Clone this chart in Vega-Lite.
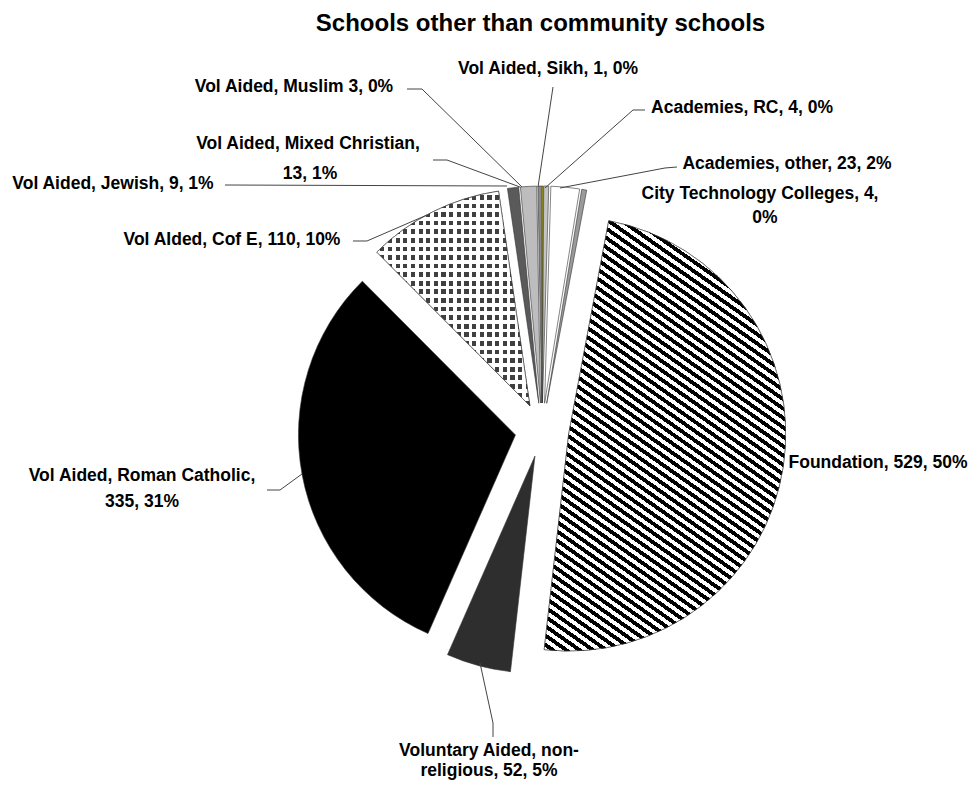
{
"$schema":"https://vega.github.io/schema/vega-lite/v6.json",
"width":973,"height":745,"autosize":"none",
"padding":{"top":40,"left":0,"right":0,"bottom":0},
"background":"white",
"config":{"view":{"stroke":null}},
"title":{"text":"Schools other than community schools","font":"Liberation Sans","fontSize":24,"fontWeight":"bold","color":"#000","anchor":"middle","dx":54,"dy":25,"baseline":"alphabetic","offset":10},
"datasets":{
"slices":[
{"cat":"Vol Aided, Sikh","n":1,"ord":1},
{"cat":"Academies, RC","n":4,"ord":2},
{"cat":"Academies, other","n":23,"ord":3},
{"cat":"City Technology Colleges","n":4,"ord":4},
{"cat":"Foundation","n":529,"ord":5},
{"cat":"Voluntary Aided, non-religious","n":52,"ord":6},
{"cat":"Vol Aided, Roman Catholic","n":335,"ord":7},
{"cat":"Vol AIded, Cof E","n":110,"ord":8},
{"cat":"Vol Aided, Jewish","n":9,"ord":9},
{"cat":"Vol Aided, Mixed Christian","n":13,"ord":10},
{"cat":"Vol Aided, Muslim","n":3,"ord":11}
],
"labels":[
{"t":"Vol Aided, Sikh, 1, 0%","u":0.0276,"v":-1.6636},
{"t":"Vol Aided, Muslim 3, 0%","u":-1.1429,"v":-1.5806},
{"t":"Vol Aided, Mixed Christian,","u":-1.0783,"v":-1.3157},
{"t":"13, 1%","u":-1.0691,"v":-1.182},
{"t":"Vol Aided, Jewish, 9, 1%","u":-1.977,"v":-1.1336},
{"t":"Vol AIded, Cof E, 110, 10%","u":-1.4286,"v":-0.8756},
{"t":"Vol Aided, Roman Catholic,","u":-1.8433,"v":0.2097},
{"t":"335, 31%","u":-1.8433,"v":0.3295},
{"t":"Voluntary Aided, non-","u":-0.2442,"v":1.477},
{"t":"religious, 52, 5%","u":-0.2442,"v":1.5714},
{"t":"Foundation, 529, 50%","u":1.5484,"v":0.1521},
{"t":"Academies, RC, 4, 0%","u":0.9217,"v":-1.4839},
{"t":"Academies, other, 23, 2%","u":1.129,"v":-1.2258},
{"t":"City Technology Colleges, 4,","u":1.0046,"v":-1.0876},
{"t":"0%","u":1.0276,"v":-0.9747}
],
"leaders":[
{"x1":0.0507,"y1":-1.5806,"x2":-0.0184,"y2":-1.1198},
{"x1":-0.6221,"y1":-1.5714,"x2":-0.553,"y2":-1.5714},
{"x1":-0.553,"y1":-1.5714,"x2":-0.0922,"y2":-1.1198},
{"x1":-0.5023,"y1":-1.2442,"x2":-0.4378,"y2":-1.2442},
{"x1":-0.4378,"y1":-1.2442,"x2":-0.1014,"y2":-1.1198},
{"x1":-1.4608,"y1":-1.129,"x2":-0.1613,"y2":-1.1244},
{"x1":-0.871,"y1":-0.871,"x2":-0.8065,"y2":-0.871},
{"x1":-0.8065,"y1":-0.871,"x2":-0.53,"y2":-0.9908},
{"x1":-1.2673,"y1":0.2765,"x2":-1.2074,"y2":0.2765},
{"x1":-1.2074,"y1":0.2765,"x2":-1.106,"y2":0.2028},
{"x1":-0.2258,"y1":1.4147,"x2":-0.2258,"y2":1.3502},
{"x1":-0.2258,"y1":1.3502,"x2":-0.2857,"y2":1.0737},
{"x1":0.4747,"y1":-1.4747,"x2":0.4194,"y2":-1.4747},
{"x1":0.4194,"y1":-1.4747,"x2":0.0138,"y2":-1.1152},
{"x1":0.6221,"y1":-1.212,"x2":0.5668,"y2":-1.2074},
{"x1":0.5668,"y1":-1.2074,"x2":0.0829,"y2":-1.1152}
]
},
"layer":[
{
"data":{"name":"slices"},
"transform":[
{"window":[{"op":"sum","field":"n","as":"cum"}],"sort":[{"field":"ord"}],"frame":[null,0]},
{"joinaggregate":[{"op":"sum","field":"n","as":"total"}]},
{"calculate":"2*PI*(datum.cum-datum.n)/datum.total","as":"a0"},
{"calculate":"2*PI*datum.cum/datum.total","as":"a1"},
{"calculate":"0.1244*sin((datum.a0+datum.a1)/2)","as":"ex"},
{"calculate":"-0.1244*cos((datum.a0+datum.a1)/2)","as":"ey"}
],
"encoding":{
"theta":{"field":"a0","type":"quantitative","scale":null,"stack":null},
"theta2":{"field":"a1"},
"x":{"field":"ex","type":"quantitative","scale":{"domain":[-1,1],"range":[325,759],"nice":false,"zero":false},"axis":null},
"y":{"field":"ey","type":"quantitative","scale":{"domain":[-1,1],"range":[173,607],"nice":false,"zero":false},"axis":null}
},
"layer":[
{"mark":{"type":"arc","radius":217,"stroke":"#333","strokeWidth":0.6},
"encoding":{"fill":{"field":"cat","type":"nominal","legend":null,"scale":{
"domain":["Vol Aided, Sikh","Academies, RC","Academies, other","City Technology Colleges","Foundation","Voluntary Aided, non-religious","Vol Aided, Roman Catholic","Vol AIded, Cof E","Vol Aided, Jewish","Vol Aided, Mixed Christian","Vol Aided, Muslim"],
"range":["#e8dc00","#c4c4c4","#ffffff","#9a9a9a","#ffffff","#2e2e2e","#000000","#404040","#5a5a5a","#bdbdbd","#8a8a8a"]}}}},
{"transform":[{"filter":"datum.ord==8"}],
"mark":{"type":"arc","radius":217,"strokeWidth":0,"fill":{"gradient":"linear","x1":0,"y1":0,"x2":0,"y2":1,"stops":[
{"offset":0,"color":"#fff"},{"offset":0.018,"color":"#fff"},{"offset":0.018,"color":"rgba(255,255,255,0)"},{"offset":0.04,"color":"rgba(255,255,255,0)"},
{"offset":0.04,"color":"#fff"},{"offset":0.058,"color":"#fff"},{"offset":0.058,"color":"rgba(255,255,255,0)"},{"offset":0.08,"color":"rgba(255,255,255,0)"},
{"offset":0.08,"color":"#fff"},{"offset":0.098,"color":"#fff"},{"offset":0.098,"color":"rgba(255,255,255,0)"},{"offset":0.12,"color":"rgba(255,255,255,0)"},
{"offset":0.12,"color":"#fff"},{"offset":0.138,"color":"#fff"},{"offset":0.138,"color":"rgba(255,255,255,0)"},{"offset":0.16,"color":"rgba(255,255,255,0)"},
{"offset":0.16,"color":"#fff"},{"offset":0.178,"color":"#fff"},{"offset":0.178,"color":"rgba(255,255,255,0)"},{"offset":0.2,"color":"rgba(255,255,255,0)"},
{"offset":0.2,"color":"#fff"},{"offset":0.218,"color":"#fff"},{"offset":0.218,"color":"rgba(255,255,255,0)"},{"offset":0.24,"color":"rgba(255,255,255,0)"},
{"offset":0.24,"color":"#fff"},{"offset":0.258,"color":"#fff"},{"offset":0.258,"color":"rgba(255,255,255,0)"},{"offset":0.28,"color":"rgba(255,255,255,0)"},
{"offset":0.28,"color":"#fff"},{"offset":0.298,"color":"#fff"},{"offset":0.298,"color":"rgba(255,255,255,0)"},{"offset":0.32,"color":"rgba(255,255,255,0)"},
{"offset":0.32,"color":"#fff"},{"offset":0.338,"color":"#fff"},{"offset":0.338,"color":"rgba(255,255,255,0)"},{"offset":0.36,"color":"rgba(255,255,255,0)"},
{"offset":0.36,"color":"#fff"},{"offset":0.378,"color":"#fff"},{"offset":0.378,"color":"rgba(255,255,255,0)"},{"offset":0.4,"color":"rgba(255,255,255,0)"},
{"offset":0.4,"color":"#fff"},{"offset":0.418,"color":"#fff"},{"offset":0.418,"color":"rgba(255,255,255,0)"},{"offset":0.44,"color":"rgba(255,255,255,0)"},
{"offset":0.44,"color":"#fff"},{"offset":0.458,"color":"#fff"},{"offset":0.458,"color":"rgba(255,255,255,0)"},{"offset":0.48,"color":"rgba(255,255,255,0)"},
{"offset":0.48,"color":"#fff"},{"offset":0.498,"color":"#fff"},{"offset":0.498,"color":"rgba(255,255,255,0)"},{"offset":0.52,"color":"rgba(255,255,255,0)"},
{"offset":0.52,"color":"#fff"},{"offset":0.538,"color":"#fff"},{"offset":0.538,"color":"rgba(255,255,255,0)"},{"offset":0.56,"color":"rgba(255,255,255,0)"},
{"offset":0.56,"color":"#fff"},{"offset":0.578,"color":"#fff"},{"offset":0.578,"color":"rgba(255,255,255,0)"},{"offset":0.6,"color":"rgba(255,255,255,0)"},
{"offset":0.6,"color":"#fff"},{"offset":0.618,"color":"#fff"},{"offset":0.618,"color":"rgba(255,255,255,0)"},{"offset":0.64,"color":"rgba(255,255,255,0)"},
{"offset":0.64,"color":"#fff"},{"offset":0.658,"color":"#fff"},{"offset":0.658,"color":"rgba(255,255,255,0)"},{"offset":0.68,"color":"rgba(255,255,255,0)"},
{"offset":0.68,"color":"#fff"},{"offset":0.698,"color":"#fff"},{"offset":0.698,"color":"rgba(255,255,255,0)"},{"offset":0.72,"color":"rgba(255,255,255,0)"},
{"offset":0.72,"color":"#fff"},{"offset":0.738,"color":"#fff"},{"offset":0.738,"color":"rgba(255,255,255,0)"},{"offset":0.76,"color":"rgba(255,255,255,0)"},
{"offset":0.76,"color":"#fff"},{"offset":0.778,"color":"#fff"},{"offset":0.778,"color":"rgba(255,255,255,0)"},{"offset":0.8,"color":"rgba(255,255,255,0)"},
{"offset":0.8,"color":"#fff"},{"offset":0.818,"color":"#fff"},{"offset":0.818,"color":"rgba(255,255,255,0)"},{"offset":0.84,"color":"rgba(255,255,255,0)"},
{"offset":0.84,"color":"#fff"},{"offset":0.858,"color":"#fff"},{"offset":0.858,"color":"rgba(255,255,255,0)"},{"offset":0.88,"color":"rgba(255,255,255,0)"},
{"offset":0.88,"color":"#fff"},{"offset":0.898,"color":"#fff"},{"offset":0.898,"color":"rgba(255,255,255,0)"},{"offset":0.92,"color":"rgba(255,255,255,0)"},
{"offset":0.92,"color":"#fff"},{"offset":0.938,"color":"#fff"},{"offset":0.938,"color":"rgba(255,255,255,0)"},{"offset":0.96,"color":"rgba(255,255,255,0)"},
{"offset":0.96,"color":"#fff"},{"offset":0.978,"color":"#fff"},{"offset":0.978,"color":"rgba(255,255,255,0)"},{"offset":1,"color":"rgba(255,255,255,0)"}
]}}},
{"transform":[{"filter":"datum.ord==8"}],
"mark":{"type":"arc","radius":217,"stroke":"#333","strokeWidth":0.6,"fill":{"gradient":"linear","x1":0,"y1":0,"x2":1,"y2":0,"stops":[
{"offset":0,"color":"#fff"},{"offset":0.0225,"color":"#fff"},{"offset":0.0225,"color":"rgba(255,255,255,0)"},{"offset":0.05,"color":"rgba(255,255,255,0)"},
{"offset":0.05,"color":"#fff"},{"offset":0.0725,"color":"#fff"},{"offset":0.0725,"color":"rgba(255,255,255,0)"},{"offset":0.1,"color":"rgba(255,255,255,0)"},
{"offset":0.1,"color":"#fff"},{"offset":0.1225,"color":"#fff"},{"offset":0.1225,"color":"rgba(255,255,255,0)"},{"offset":0.15,"color":"rgba(255,255,255,0)"},
{"offset":0.15,"color":"#fff"},{"offset":0.1725,"color":"#fff"},{"offset":0.1725,"color":"rgba(255,255,255,0)"},{"offset":0.2,"color":"rgba(255,255,255,0)"},
{"offset":0.2,"color":"#fff"},{"offset":0.2225,"color":"#fff"},{"offset":0.2225,"color":"rgba(255,255,255,0)"},{"offset":0.25,"color":"rgba(255,255,255,0)"},
{"offset":0.25,"color":"#fff"},{"offset":0.2725,"color":"#fff"},{"offset":0.2725,"color":"rgba(255,255,255,0)"},{"offset":0.3,"color":"rgba(255,255,255,0)"},
{"offset":0.3,"color":"#fff"},{"offset":0.3225,"color":"#fff"},{"offset":0.3225,"color":"rgba(255,255,255,0)"},{"offset":0.35,"color":"rgba(255,255,255,0)"},
{"offset":0.35,"color":"#fff"},{"offset":0.3725,"color":"#fff"},{"offset":0.3725,"color":"rgba(255,255,255,0)"},{"offset":0.4,"color":"rgba(255,255,255,0)"},
{"offset":0.4,"color":"#fff"},{"offset":0.4225,"color":"#fff"},{"offset":0.4225,"color":"rgba(255,255,255,0)"},{"offset":0.45,"color":"rgba(255,255,255,0)"},
{"offset":0.45,"color":"#fff"},{"offset":0.4725,"color":"#fff"},{"offset":0.4725,"color":"rgba(255,255,255,0)"},{"offset":0.5,"color":"rgba(255,255,255,0)"},
{"offset":0.5,"color":"#fff"},{"offset":0.5225,"color":"#fff"},{"offset":0.5225,"color":"rgba(255,255,255,0)"},{"offset":0.55,"color":"rgba(255,255,255,0)"},
{"offset":0.55,"color":"#fff"},{"offset":0.5725,"color":"#fff"},{"offset":0.5725,"color":"rgba(255,255,255,0)"},{"offset":0.6,"color":"rgba(255,255,255,0)"},
{"offset":0.6,"color":"#fff"},{"offset":0.6225,"color":"#fff"},{"offset":0.6225,"color":"rgba(255,255,255,0)"},{"offset":0.65,"color":"rgba(255,255,255,0)"},
{"offset":0.65,"color":"#fff"},{"offset":0.6725,"color":"#fff"},{"offset":0.6725,"color":"rgba(255,255,255,0)"},{"offset":0.7,"color":"rgba(255,255,255,0)"},
{"offset":0.7,"color":"#fff"},{"offset":0.7225,"color":"#fff"},{"offset":0.7225,"color":"rgba(255,255,255,0)"},{"offset":0.75,"color":"rgba(255,255,255,0)"},
{"offset":0.75,"color":"#fff"},{"offset":0.7725,"color":"#fff"},{"offset":0.7725,"color":"rgba(255,255,255,0)"},{"offset":0.8,"color":"rgba(255,255,255,0)"},
{"offset":0.8,"color":"#fff"},{"offset":0.8225,"color":"#fff"},{"offset":0.8225,"color":"rgba(255,255,255,0)"},{"offset":0.85,"color":"rgba(255,255,255,0)"},
{"offset":0.85,"color":"#fff"},{"offset":0.8725,"color":"#fff"},{"offset":0.8725,"color":"rgba(255,255,255,0)"},{"offset":0.9,"color":"rgba(255,255,255,0)"},
{"offset":0.9,"color":"#fff"},{"offset":0.9225,"color":"#fff"},{"offset":0.9225,"color":"rgba(255,255,255,0)"},{"offset":0.95,"color":"rgba(255,255,255,0)"},
{"offset":0.95,"color":"#fff"},{"offset":0.9725,"color":"#fff"},{"offset":0.9725,"color":"rgba(255,255,255,0)"},{"offset":1,"color":"rgba(255,255,255,0)"}
]}}},
{"transform":[{"filter":"datum.ord==5"}],
"mark":{"type":"arc","radius":217,"stroke":"#333","strokeWidth":0.6,"fill":{"gradient":"linear","x1":0.1338,"y1":-0.3404,"x2":-0.3404,"y2":0.8662,"stops":[
{"offset":0,"color":"#000"},{"offset":0.0078125,"color":"#000"},{"offset":0.0078125,"color":"#fff"},{"offset":0.015625,"color":"#fff"},
{"offset":0.015625,"color":"#000"},{"offset":0.0234375,"color":"#000"},{"offset":0.0234375,"color":"#fff"},{"offset":0.03125,"color":"#fff"},
{"offset":0.03125,"color":"#000"},{"offset":0.0390625,"color":"#000"},{"offset":0.0390625,"color":"#fff"},{"offset":0.046875,"color":"#fff"},
{"offset":0.046875,"color":"#000"},{"offset":0.0546875,"color":"#000"},{"offset":0.0546875,"color":"#fff"},{"offset":0.0625,"color":"#fff"},
{"offset":0.0625,"color":"#000"},{"offset":0.0703125,"color":"#000"},{"offset":0.0703125,"color":"#fff"},{"offset":0.078125,"color":"#fff"},
{"offset":0.078125,"color":"#000"},{"offset":0.0859375,"color":"#000"},{"offset":0.0859375,"color":"#fff"},{"offset":0.09375,"color":"#fff"},
{"offset":0.09375,"color":"#000"},{"offset":0.1015625,"color":"#000"},{"offset":0.1015625,"color":"#fff"},{"offset":0.109375,"color":"#fff"},
{"offset":0.109375,"color":"#000"},{"offset":0.1171875,"color":"#000"},{"offset":0.1171875,"color":"#fff"},{"offset":0.125,"color":"#fff"},
{"offset":0.125,"color":"#000"},{"offset":0.1328125,"color":"#000"},{"offset":0.1328125,"color":"#fff"},{"offset":0.140625,"color":"#fff"},
{"offset":0.140625,"color":"#000"},{"offset":0.1484375,"color":"#000"},{"offset":0.1484375,"color":"#fff"},{"offset":0.15625,"color":"#fff"},
{"offset":0.15625,"color":"#000"},{"offset":0.1640625,"color":"#000"},{"offset":0.1640625,"color":"#fff"},{"offset":0.171875,"color":"#fff"},
{"offset":0.171875,"color":"#000"},{"offset":0.1796875,"color":"#000"},{"offset":0.1796875,"color":"#fff"},{"offset":0.1875,"color":"#fff"},
{"offset":0.1875,"color":"#000"},{"offset":0.1953125,"color":"#000"},{"offset":0.1953125,"color":"#fff"},{"offset":0.203125,"color":"#fff"},
{"offset":0.203125,"color":"#000"},{"offset":0.2109375,"color":"#000"},{"offset":0.2109375,"color":"#fff"},{"offset":0.21875,"color":"#fff"},
{"offset":0.21875,"color":"#000"},{"offset":0.2265625,"color":"#000"},{"offset":0.2265625,"color":"#fff"},{"offset":0.234375,"color":"#fff"},
{"offset":0.234375,"color":"#000"},{"offset":0.2421875,"color":"#000"},{"offset":0.2421875,"color":"#fff"},{"offset":0.25,"color":"#fff"},
{"offset":0.25,"color":"#000"},{"offset":0.2578125,"color":"#000"},{"offset":0.2578125,"color":"#fff"},{"offset":0.265625,"color":"#fff"},
{"offset":0.265625,"color":"#000"},{"offset":0.2734375,"color":"#000"},{"offset":0.2734375,"color":"#fff"},{"offset":0.28125,"color":"#fff"},
{"offset":0.28125,"color":"#000"},{"offset":0.2890625,"color":"#000"},{"offset":0.2890625,"color":"#fff"},{"offset":0.296875,"color":"#fff"},
{"offset":0.296875,"color":"#000"},{"offset":0.3046875,"color":"#000"},{"offset":0.3046875,"color":"#fff"},{"offset":0.3125,"color":"#fff"},
{"offset":0.3125,"color":"#000"},{"offset":0.3203125,"color":"#000"},{"offset":0.3203125,"color":"#fff"},{"offset":0.328125,"color":"#fff"},
{"offset":0.328125,"color":"#000"},{"offset":0.3359375,"color":"#000"},{"offset":0.3359375,"color":"#fff"},{"offset":0.34375,"color":"#fff"},
{"offset":0.34375,"color":"#000"},{"offset":0.3515625,"color":"#000"},{"offset":0.3515625,"color":"#fff"},{"offset":0.359375,"color":"#fff"},
{"offset":0.359375,"color":"#000"},{"offset":0.3671875,"color":"#000"},{"offset":0.3671875,"color":"#fff"},{"offset":0.375,"color":"#fff"},
{"offset":0.375,"color":"#000"},{"offset":0.3828125,"color":"#000"},{"offset":0.3828125,"color":"#fff"},{"offset":0.390625,"color":"#fff"},
{"offset":0.390625,"color":"#000"},{"offset":0.3984375,"color":"#000"},{"offset":0.3984375,"color":"#fff"},{"offset":0.40625,"color":"#fff"},
{"offset":0.40625,"color":"#000"},{"offset":0.4140625,"color":"#000"},{"offset":0.4140625,"color":"#fff"},{"offset":0.421875,"color":"#fff"},
{"offset":0.421875,"color":"#000"},{"offset":0.4296875,"color":"#000"},{"offset":0.4296875,"color":"#fff"},{"offset":0.4375,"color":"#fff"},
{"offset":0.4375,"color":"#000"},{"offset":0.4453125,"color":"#000"},{"offset":0.4453125,"color":"#fff"},{"offset":0.453125,"color":"#fff"},
{"offset":0.453125,"color":"#000"},{"offset":0.4609375,"color":"#000"},{"offset":0.4609375,"color":"#fff"},{"offset":0.46875,"color":"#fff"},
{"offset":0.46875,"color":"#000"},{"offset":0.4765625,"color":"#000"},{"offset":0.4765625,"color":"#fff"},{"offset":0.484375,"color":"#fff"},
{"offset":0.484375,"color":"#000"},{"offset":0.4921875,"color":"#000"},{"offset":0.4921875,"color":"#fff"},{"offset":0.5,"color":"#fff"},
{"offset":0.5,"color":"#000"},{"offset":0.5078125,"color":"#000"},{"offset":0.5078125,"color":"#fff"},{"offset":0.515625,"color":"#fff"},
{"offset":0.515625,"color":"#000"},{"offset":0.5234375,"color":"#000"},{"offset":0.5234375,"color":"#fff"},{"offset":0.53125,"color":"#fff"},
{"offset":0.53125,"color":"#000"},{"offset":0.5390625,"color":"#000"},{"offset":0.5390625,"color":"#fff"},{"offset":0.546875,"color":"#fff"},
{"offset":0.546875,"color":"#000"},{"offset":0.5546875,"color":"#000"},{"offset":0.5546875,"color":"#fff"},{"offset":0.5625,"color":"#fff"},
{"offset":0.5625,"color":"#000"},{"offset":0.5703125,"color":"#000"},{"offset":0.5703125,"color":"#fff"},{"offset":0.578125,"color":"#fff"},
{"offset":0.578125,"color":"#000"},{"offset":0.5859375,"color":"#000"},{"offset":0.5859375,"color":"#fff"},{"offset":0.59375,"color":"#fff"},
{"offset":0.59375,"color":"#000"},{"offset":0.6015625,"color":"#000"},{"offset":0.6015625,"color":"#fff"},{"offset":0.609375,"color":"#fff"},
{"offset":0.609375,"color":"#000"},{"offset":0.6171875,"color":"#000"},{"offset":0.6171875,"color":"#fff"},{"offset":0.625,"color":"#fff"},
{"offset":0.625,"color":"#000"},{"offset":0.6328125,"color":"#000"},{"offset":0.6328125,"color":"#fff"},{"offset":0.640625,"color":"#fff"},
{"offset":0.640625,"color":"#000"},{"offset":0.6484375,"color":"#000"},{"offset":0.6484375,"color":"#fff"},{"offset":0.65625,"color":"#fff"},
{"offset":0.65625,"color":"#000"},{"offset":0.6640625,"color":"#000"},{"offset":0.6640625,"color":"#fff"},{"offset":0.671875,"color":"#fff"},
{"offset":0.671875,"color":"#000"},{"offset":0.6796875,"color":"#000"},{"offset":0.6796875,"color":"#fff"},{"offset":0.6875,"color":"#fff"},
{"offset":0.6875,"color":"#000"},{"offset":0.6953125,"color":"#000"},{"offset":0.6953125,"color":"#fff"},{"offset":0.703125,"color":"#fff"},
{"offset":0.703125,"color":"#000"},{"offset":0.7109375,"color":"#000"},{"offset":0.7109375,"color":"#fff"},{"offset":0.71875,"color":"#fff"},
{"offset":0.71875,"color":"#000"},{"offset":0.7265625,"color":"#000"},{"offset":0.7265625,"color":"#fff"},{"offset":0.734375,"color":"#fff"},
{"offset":0.734375,"color":"#000"},{"offset":0.7421875,"color":"#000"},{"offset":0.7421875,"color":"#fff"},{"offset":0.75,"color":"#fff"},
{"offset":0.75,"color":"#000"},{"offset":0.7578125,"color":"#000"},{"offset":0.7578125,"color":"#fff"},{"offset":0.765625,"color":"#fff"},
{"offset":0.765625,"color":"#000"},{"offset":0.7734375,"color":"#000"},{"offset":0.7734375,"color":"#fff"},{"offset":0.78125,"color":"#fff"},
{"offset":0.78125,"color":"#000"},{"offset":0.7890625,"color":"#000"},{"offset":0.7890625,"color":"#fff"},{"offset":0.796875,"color":"#fff"},
{"offset":0.796875,"color":"#000"},{"offset":0.8046875,"color":"#000"},{"offset":0.8046875,"color":"#fff"},{"offset":0.8125,"color":"#fff"},
{"offset":0.8125,"color":"#000"},{"offset":0.8203125,"color":"#000"},{"offset":0.8203125,"color":"#fff"},{"offset":0.828125,"color":"#fff"},
{"offset":0.828125,"color":"#000"},{"offset":0.8359375,"color":"#000"},{"offset":0.8359375,"color":"#fff"},{"offset":0.84375,"color":"#fff"},
{"offset":0.84375,"color":"#000"},{"offset":0.8515625,"color":"#000"},{"offset":0.8515625,"color":"#fff"},{"offset":0.859375,"color":"#fff"},
{"offset":0.859375,"color":"#000"},{"offset":0.8671875,"color":"#000"},{"offset":0.8671875,"color":"#fff"},{"offset":0.875,"color":"#fff"},
{"offset":0.875,"color":"#000"},{"offset":0.8828125,"color":"#000"},{"offset":0.8828125,"color":"#fff"},{"offset":0.890625,"color":"#fff"},
{"offset":0.890625,"color":"#000"},{"offset":0.8984375,"color":"#000"},{"offset":0.8984375,"color":"#fff"},{"offset":0.90625,"color":"#fff"},
{"offset":0.90625,"color":"#000"},{"offset":0.9140625,"color":"#000"},{"offset":0.9140625,"color":"#fff"},{"offset":0.921875,"color":"#fff"},
{"offset":0.921875,"color":"#000"},{"offset":0.9296875,"color":"#000"},{"offset":0.9296875,"color":"#fff"},{"offset":0.9375,"color":"#fff"},
{"offset":0.9375,"color":"#000"},{"offset":0.9453125,"color":"#000"},{"offset":0.9453125,"color":"#fff"},{"offset":0.953125,"color":"#fff"},
{"offset":0.953125,"color":"#000"},{"offset":0.9609375,"color":"#000"},{"offset":0.9609375,"color":"#fff"},{"offset":0.96875,"color":"#fff"},
{"offset":0.96875,"color":"#000"},{"offset":0.9765625,"color":"#000"},{"offset":0.9765625,"color":"#fff"},{"offset":0.984375,"color":"#fff"},
{"offset":0.984375,"color":"#000"},{"offset":0.9921875,"color":"#000"},{"offset":0.9921875,"color":"#fff"},{"offset":1,"color":"#fff"}
]}}}
]
},
{
"data":{"name":"leaders"},
"mark":{"type":"rule","color":"#444","strokeWidth":1},
"encoding":{
"x":{"field":"x1","type":"quantitative","scale":{"domain":[-1,1],"range":[325,759],"nice":false,"zero":false},"axis":null},
"y":{"field":"y1","type":"quantitative","scale":{"domain":[-1,1],"range":[173,607],"nice":false,"zero":false},"axis":null},
"x2":{"field":"x2"},
"y2":{"field":"y2"}
}
},
{
"data":{"name":"labels"},
"mark":{"type":"text","font":"Liberation Sans","fontSize":17.5,"fontWeight":"bold","color":"#000","align":"center","baseline":"middle"},
"encoding":{
"x":{"field":"u","type":"quantitative","scale":{"domain":[-1,1],"range":[325,759],"nice":false,"zero":false},"axis":null},
"y":{"field":"v","type":"quantitative","scale":{"domain":[-1,1],"range":[173,607],"nice":false,"zero":false},"axis":null},
"text":{"field":"t"}
}
}
]
}
